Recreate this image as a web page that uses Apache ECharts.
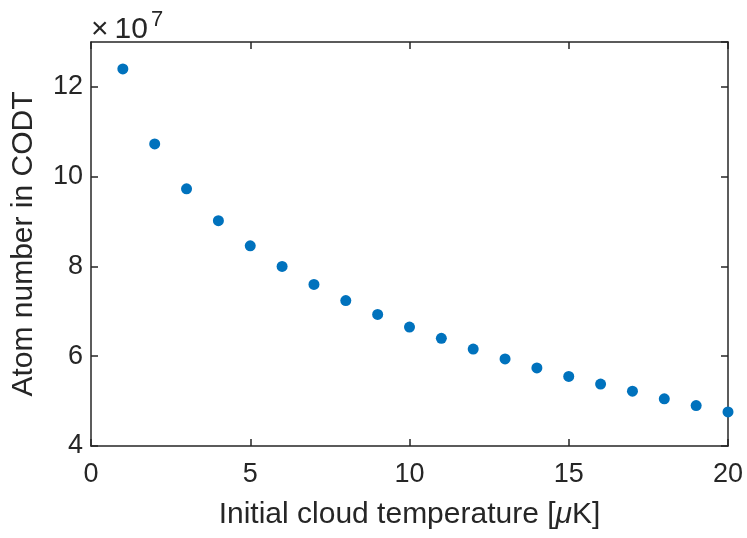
<!DOCTYPE html>
<html>
<head>
<meta charset="utf-8">
<script src="https://cdn.jsdelivr.net/npm/echarts@6/dist/echarts.min.js"></script>
<style>html,body{margin:0;padding:0;background:#fff}#c{width:747px;height:538px}</style>
</head>
<body>
<div id="c"></div>
<script>
// Data (atom numbers in units of 10^7)
const temperatures = [1,2,3,4,5,6,7,8,9,10,11,12,13,14,15,16,17,18,19,20];
const atomNumbers = [12.40,10.73,9.73,9.02,8.46,8.00,7.60,7.24,6.93,6.65,6.40,6.16,5.94,5.74,5.55,5.38,5.22,5.05,4.90,4.76];
const exponent = '7';
const xTicks = [0,5,10,15,20];
const yTicks = [4,6,8,10,12];

const axisColor = '#262626';
const font = 'Liberation Sans, Arial, Helvetica, sans-serif';
const chart = echarts.init(document.getElementById('c'), null, {renderer: 'canvas'});
const lineStyle = {color: axisColor, width: 1.5};
const tickStyle = {show: true, inside: true, length: 7, lineStyle: {color: axisColor, width: 1.5}};

chart.setOption({
  backgroundColor: '#ffffff',
  animation: false,
  grid: {left: 91, right: 19, top: 42, bottom: 92, containLabel: false},
  xAxis: [{
    type: 'value', position: 'bottom', min: xTicks[0], max: xTicks[xTicks.length-1], interval: 5,
    axisLine: {show: true, onZero: false, lineStyle: lineStyle},
    axisTick: tickStyle,
    splitLine: {show: false},
    axisLabel: {color: axisColor, fontSize: 27, fontFamily: font, margin: 15},
    name: 'Initial cloud temperature [{i|μ}K]',
    nameLocation: 'middle', nameGap: 54,
    nameTextStyle: {color: axisColor, fontSize: 30, fontFamily: font,
      rich: {i: {fontStyle: 'italic', fontSize: 30, fontFamily: font, color: axisColor}}}
  }, {
    type: 'value', position: 'top', min: xTicks[0], max: xTicks[xTicks.length-1], interval: 5,
    axisLine: {show: true, onZero: false, lineStyle: lineStyle},
    axisTick: tickStyle, axisLabel: {show: false}, splitLine: {show: false}
  }],
  yAxis: [{
    type: 'value', position: 'left', min: 4, max: 13, interval: 2,
    axisLine: {show: true, onZero: false, lineStyle: lineStyle},
    axisTick: tickStyle,
    splitLine: {show: false},
    axisLabel: {color: axisColor, fontSize: 27, fontFamily: font, margin: 8, showMaxLabel: false,
      formatter: v => (yTicks.indexOf(v) >= 0 ? String(v) : '')},
    name: 'Atom number in CODT',
    nameLocation: 'middle', nameGap: 52,
    nameTextStyle: {color: axisColor, fontSize: 30, fontFamily: font}
  }, {
    type: 'value', position: 'right', min: 4, max: 13, interval: 2,
    axisLine: {show: true, onZero: false, lineStyle: lineStyle},
    axisTick: tickStyle, axisLabel: {show: false}, splitLine: {show: false}
  }],
  graphic: [{
    type: 'text', left: 91, top: 9,
    style: {
      text: '{a|×\u2009' + '10}{e|' + exponent + '}',
      rich: {
        a: {fontSize: 30, fontFamily: font, fill: axisColor, verticalAlign: 'bottom'},
        e: {fontSize: 22, fontFamily: font, fill: axisColor, verticalAlign: 'top', padding: [0,0,14,3]}
      }
    }
  }],
  series: [{
    type: 'scatter', xAxisIndex: 0, yAxisIndex: 0, clip: false,
    symbol: 'circle', symbolSize: 11,
    itemStyle: {color: '#0072BD', opacity: 1},
    data: temperatures.map((t, i) => [t, atomNumbers[i]])
  }]
});
</script>
</body>
</html>
